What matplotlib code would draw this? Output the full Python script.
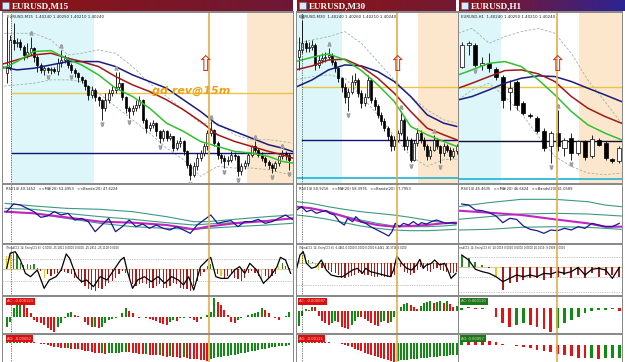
import numpy as np
import matplotlib.pyplot as plt
from matplotlib.colors import LinearSegmentedColormap
from matplotlib.patches import Rectangle

W, H = 625, 362
fig = plt.figure(figsize=(W / 100, H / 100), dpi=100)
fig.patch.set_facecolor('white')

# ---------------- EURUSD M15 (screen levels) ----------------
m15_open0 = 330
m15_close = [350, 430, 420, 425, 410, 385, 395, 405, 380, 355,
             340, 345, 340, 342, 338, 360, 370, 375, 355, 340,
             330, 318, 310, 292, 265, 280, 258, 250, 225, 250,
             270, 280, 290, 300, 260, 225, 215, 225, 235, 250,
             190, 165, 175, 180, 155, 135, 155, 135, 140, 105,
             120, 125, 95, 55, 25, 50, 75, 90, 110, 150,
             160, 120, 85, 75, 65, 70, 85, 80, 35, 50,
             60, 85, 110, 100, 85, 75, 62, 55, 45, 60,
             80, 90, 85, 70]
m15_high = [500, 445, 480, 435, 432, 415, 420, 440, 410, 385,
            360, 352, 350, 350, 348, 375, 400, 385, 380, 360,
            345, 335, 322, 312, 295, 292, 285, 262, 252, 270,
            282, 292, 335, 335, 302, 262, 232, 235, 250, 262,
            252, 195, 182, 190, 182, 160, 162, 160, 150, 142,
            130, 138, 128, 100, 60, 62, 90, 100, 120, 160,
            185, 162, 125, 90, 85, 80, 95, 92, 85, 60,
            70, 92, 115, 125, 105, 92, 80, 68, 60, 65,
            85, 100, 95, 90]
m15_low = [300, 340, 400, 410, 400, 370, 375, 385, 365, 335,
           330, 325, 330, 328, 330, 325, 350, 360, 345, 330,
           320, 305, 300, 280, 250, 255, 245, 230, 190, 215,
           240, 262, 270, 280, 248, 210, 195, 205, 215, 225,
           180, 150, 155, 165, 140, 120, 125, 125, 128, 95,
           98, 108, 85, 45, 10, 18, 40, 65, 80, 100,
           140, 110, 72, 60, 45, 55, 62, 70, 20, 25,
           42, 52, 78, 92, 78, 65, 50, 42, 30, 35,
           50, 72, 70, 40]
m15_frac_up = [7, 16, 32, 60, 73, 81]
m15_frac_dn = [12, 19, 28, 36, 45, 54, 64, 68, 78, 83]
m15_ma_x = [-2, 3, 8, 13, 18, 22, 27, 32, 37, 42, 47, 52, 57, 62, 67, 72, 77, 81, 84]
m15_ma_fast = [340, 365, 395, 398, 372, 355, 325, 285, 260, 225, 180, 155, 125, 110, 95, 90, 80, 65, 60]
m15_ma_mid = [355, 370, 385, 390, 375, 365, 350, 320, 295, 275, 250, 220, 185, 145, 125, 110, 95, 85, 75]
m15_ma_slow = [350, 340, 345, 355, 365, 365, 365, 350, 325, 305, 285, 250, 215, 175, 155, 135, 115, 105, 95]
m15_bb_up = [450, 450, 450, 430, 385, 390, 400, 390, 350, 300, 260, 220, 180, 180, 145, 130, 130, 125, 120]
m15_bb_dn = [290, 295, 300, 310, 310, 305, 270, 230, 190, 150, 105, 70, 20, 50, 45, 45, 40, 30, 25]

m15_rsi_x = list(range(0, 85, 2))
m15_rsi = [95, 118, 115, 105, 95, 78, 82, 95, 85, 90, 70, 75, 65, 35, 55, 75, 35, 50, 70, 50,
           58, 45, 55, 45, 40, 50, 40, 30, 55, 70, 85, 60, 65, 68, 50, 65, 65, 72, 60, 65,
           75, 85, 72]
m15_rsi_bx = [-0.5, 8, 17.5, 27.5, 37, 47, 55, 59, 67, 76.5, 84]
m15_rsi_ma = [95, 90, 78, 65, 62, 55, 42, 50, 60, 67, 75]
m15_rsi_up = [120, 112, 105, 102, 95, 80, 65, 65, 72, 80, 85]
m15_rsi_mid = [105, 102, 90, 80, 72, 62, 55, 58, 62, 68, 75]
m15_rsi_dn = [95, 90, 75, 60, 50, 45, 42, 45, 50, 55, 60]

m15_trend_cci = [40, 53, 50, 45, 20, 12, 15, 12, 15, 5,
                 -5, -25, -15, -20, -15, -10, -5, -8, -10, -15,
                 -25, -30, -40, -50, -60, -62, -65, -55, -60, -50,
                 -40, -35, -25, -15, -5, -10, -30, -45, -50, -45,
                 -40, -45, -55, -55, -50, -45, -55, -55, -50, -40,
                 -45, -55, -60, -60, -65, -50, -35, -20, -8, 10,
                 15, -10, -15, -20, -25, -20, -15, -25, -30, -35,
                 -25, -10, -5, -10, -20, -28, -20, -25, -20, -15,
                 10, 18, 10, 5]
m15_cci_yellow = [0, 1, 11, 61, 63, 75, 80]
m15_entry_x = [0, 1, 2.5, 4, 5.5, 7, 9, 11, 12.5, 14.5, 16, 17.5, 18.5, 20.5, 22, 23.5, 25.5,
               27.5, 29.5, 31.5, 33.5, 34.5, 35.5, 37, 38.5, 40.5, 42.5, 44.5, 46.5, 48.5,
               50.5, 52, 53.5, 55, 57, 59, 60, 61.5, 63, 65, 67, 68.5, 70, 71.5, 73.5, 75.5,
               77.5, 79.5, 80.5, 82, 83.5]
m15_entry_cci = [3, 48, 53, 28, -12, -22, -2, -57, -32, -22, -2, 46, 33, -22, -37, -32, -52,
                 -22, -32, -2, 28, 36, -7, -57, -32, -22, -37, -22, -42, -22, -32, -47, -22,
                 -62, 8, 28, 36, -22, -27, -27, -2, 8, -12, 18, -2, -42, -22, 8, 36, 28, -12]

m15_ac = [-30, -15, 25, 38, 40, 38, 25, 10, -10, -15,
          -20, -25, -35, -40, -45, -30, -20, -5, 10, 15,
          5, 2, -2, -15, -25, -30, -30, -35, -30, -20,
          -10, -8, -5, 0, 10, 25, 18, 10, 0, -5,
          -2, -5, -6, -10, -12, -18, -22, -25, -15, -10,
          -12, -5, -3, -2, -5, -10, -15, -8, -2, 5,
          15, 55, 45, 35, 20, 5, -15, -20, -10, -5,
          0, 5, 7, 10, 15, 25, 20, 10, 0, -5,
          -10, -2, 2, 15]
m15_ao = [8, 9, 10, 10, 11, 9, 8, 6, 3, 0,
          -2, -3, -5, -8, -10, -12, -14, -15, -15, -16,
          -17, -18, -20, -22, -24, -26, -28, -30, -29, -31,
          -30, -29, -28, -28, -27, -26, -27, -28, -30, -31,
          -32, -31, -34, -35, -36, -35, -38, -40, -39, -41,
          -42, -43, -42, -45, -46, -47, -48, -49, -50, -52,
          -48, -45, -42, -40, -38, -37, -35, -34, -33, -30,
          -28, -26, -24, -22, -20, -18, -16, -14, -12, -10,
          -9, -8, -7, -6]

# ---------------- EURUSD M30 ----------------
m30_open0 = 380
m30_close = [400, 420, 405, 410, 415, 355, 370, 375, 380, 385,
             365, 345, 315, 290, 260, 275, 305, 310, 270, 240,
             260, 310, 250, 230, 205, 185, 165, 140, 110, 130,
             150, 190, 110, 130, 70, 120, 150, 130, 110, 80,
             100, 130, 110, 90, 110, 100, 80, 95, 110]
m30_high = [440, 490, 430, 425, 430, 420, 385, 390, 395, 405,
            392, 370, 350, 320, 300, 285, 325, 330, 315, 280,
            270, 325, 315, 258, 238, 212, 195, 172, 148, 142,
            160, 215, 195, 140, 135, 130, 165, 158, 138, 118,
            112, 145, 136, 115, 120, 118, 108, 105, 118]
m30_low = [340, 390, 395, 395, 400, 340, 345, 360, 365, 370,
           355, 335, 305, 275, 240, 215, 268, 295, 260, 225,
           232, 255, 240, 220, 195, 175, 155, 128, 95, 100,
           122, 145, 100, 100, 62, 65, 112, 120, 100, 70,
           72, 95, 102, 60, 82, 92, 70, 75, 88]
m30_frac_up = [1, 9, 31, 41]
m30_frac_dn = [15, 34, 43]
m30_ma_x = [-1, 4, 9, 14, 19, 24, 29, 34, 39, 44, 48]
m30_ma_fast = [365, 378, 388, 370, 338, 295, 245, 170, 145, 125, 110]
m30_ma_mid = [340, 352, 370, 372, 350, 315, 270, 215, 165, 145, 130]
m30_ma_slow = [288, 310, 340, 355, 352, 335, 305, 260, 205, 180, 170]
m30_bb_up = [420, 430, 440, 455, 420, 365, 310, 260, 220, 190, 180]
m30_bb_dn = [310, 320, 325, 315, 260, 205, 140, 80, 50, 70, 72]

m30_rsi_x = [-0.7, 0.8, 2.3, 3.8, 5.3, 6.8, 8.3, 9.3, 10.8, 12.3, 13.8, 14.8, 16.3, 17.3,
             18.8, 20.3, 21.8, 23.8, 25.8, 27.3, 28.3, 29.3, 30.6, 31.8, 33.3, 34.8, 36.3,
             37.3, 38.8, 40.3, 41.8, 43.3, 44.8, 46.8, 47.8]
m30_rsi = [100, 110, 95, 100, 90, 95, 98, 90, 85, 65, 55, 75, 65, 80, 65, 60, 50, 40, 30, 22,
           35, 60, 50, 60, 55, 65, 55, 62, 58, 65, 70, 65, 60, 62, 60]
m30_rsi_bx = [-0.7, 3.8, 8.8, 13.8, 18.8, 23.8, 28.8, 33.8, 38.8, 43.8, 47.8]
m30_rsi_ma = [110, 105, 95, 80, 65, 55, 50, 52, 55, 60, 62]
m30_rsi_up = [125, 120, 110, 102, 95, 90, 85, 78, 70, 62, 58]
m30_rsi_mid = [110, 105, 95, 82, 70, 60, 52, 50, 50, 52, 55]
m30_rsi_dn = [85, 80, 72, 62, 52, 45, 40, 38, 38, 40, 42]

m30_trend_cci = [10, 25, 28, 10, 5, -10, -20, -15, -18, -20,
                 -25, -28, -35, -45, -45, -40, -38, -35, -30, -32,
                 -35, -35, -38, -40, -40, -38, -40, -42, -40, -35,
                 -15, -10, -25, -30, -35, -28, -20, -12, -18, -22,
                 -25, -18, -15, -20, -22, -25, -30, -28, -25]
m30_cci_yellow = [0, 1, 2, 5, 6]
m30_entry_x = [-0.7, 0.3, 1.3, 2.3, 3.8, 5.3, 6.8, 8.3, 9.8, 11.8, 13.3, 14.8, 16.3, 17.8,
               19.3, 20.3, 21.8, 23.8, 25.8, 27.8, 28.8, 29.8, 31.3, 32.8, 34.3, 35.8, 36.8,
               37.8, 38.8, 40.3, 41.3, 42.8, 44.3, 45.3, 46.3, 47.8]
m30_entry_cci = [-15, 25, 35, 0, -15, -10, 10, -20, -35, -40, -40, -30, -20, -15, -30, -15,
                 -25, -30, -35, -40, -20, 22, 0, -15, -20, -5, 12, -15, -5, 0, 10, -5, 0,
                 -20, -45, -30]

m30_ac = [-45, -15, 5, 3, 12, 10, -15, -30, -38, -42,
          -38, -30, -35, -48, -52, -55, -42, -30, -18, -20,
          -25, -30, -38, -42, -45, -35, -30, -38, -35, -20,
          0, 12, 20, 24, 18, 10, 6, 14, 22, 27,
          30, 24, 27, 28, 24, 30, 20, 10, 15]
m30_ao = [12, 12, 11, 11, 10, 9, 8, 6, 4, 3,
          2, 1, 0, -2, -5, -8, -12, -16, -20, -24,
          -28, -31, -34, -37, -40, -43, -46, -49, -52, -55,
          -53, -51, -50, -49, -48, -47, -46, -45, -44, -43,
          -42, -41, -40, -39, -38, -37, -36, -35, -34]

# ---------------- EURUSD H1 ----------------
h1_open = [350, 415, 415, 355, 360, 343, 318, 275, 305, 240, 205, 195,
           155, 110, 150, 105, 135, 90, 125, 80, 130, 120, 72, 65]
h1_close = [415, 420, 355, 360, 345, 320, 250, 285, 235, 210, 200, 155,
            105, 150, 110, 130, 90, 125, 78, 132, 115, 75, 65, 105]
h1_high = [425, 428, 420, 380, 390, 350, 325, 310, 310, 245, 210, 200,
           165, 155, 220, 135, 150, 130, 130, 145, 135, 125, 75, 110]
h1_low = [345, 385, 350, 340, 335, 310, 225, 220, 220, 205, 195, 150,
          95, 60, 95, 80, 70, 85, 70, 75, 110, 70, 60, 60]
h1_frac_up = [14]
h1_frac_dn = [2, 13, 16]
h1_ma_x = [-0.5, 1.5, 4, 6.3, 8.7, 11.2, 13.6, 16, 18.4, 20.9, 23.3]
h1_ma_fast = [325, 340, 360, 365, 350, 310, 265, 215, 175, 150, 130]
h1_ma_mid = [285, 300, 320, 338, 340, 328, 305, 260, 225, 200, 180]
h1_ma_slow = [250, 260, 280, 300, 315, 322, 320, 305, 285, 265, 245]
h1_bb_up = [450, 465, 420, 440, 455, 465, 450, 390, 310, 245, 180]
h1_bb_dn = [250, 280, 300, 260, 210, 140, 80, 50, 30, 25, 30]

h1_rsi_x = list(range(24))
h1_rsi = [118, 115, 100, 98, 92, 82, 62, 75, 72, 52, 42, 38,
          30, 40, 38, 45, 40, 50, 45, 60, 55, 50, 50, 60]
h1_rsi_bx = [-0.5, 3.9, 8.7, 13.6, 18.4, 20.9, 23.3]
h1_rsi_ma = [98, 92, 85, 72, 60, 50, 50]
h1_rsi_up = [110, 122, 132, 132, 125, 115, 110]
h1_rsi_mid = [72, 80, 88, 90, 88, 85, 82]
h1_rsi_dn = [40, 42, 48, 50, 48, 45, 42]

h1_trend_cci = [35, 25, 15, 5, -5, -30, -70, -50, -45, -40, -35, -35,
                -40, -35, -30, -25, -35, -25, -35, -20, -30, -25, -25, -30]
h1_cci_yellow = [5]
h1_entry_x = list(range(24))
h1_entry_cci = [35, 20, -8, -15, -20, -30, -45, -35, -25, -30, -25, -30,
                -20, -22, -15, -20, -15, -2, -25, -8, -5, -10, -35, -2]

h1_ac = [-5, 3, -2, -1, 0, -25, -45, -55, -50, -45, -50, -55,
         -62, -70, -60, -45, -35, -25, -13, -8, -6, -4, -2, -8]
h1_ao = [22, 20, 17, 14, 11, 8, 4, 1, -2, -5, -10, -14,
         -18, -22, -26, -30, -34, -38, -40, -40, -42, -40, -38, -38]

# ---------------- layout (pixels) ----------------
ROWS = {'main': (13, 183), 'rsi': (185, 243), 'cci': (245, 295), 'ac': (297, 333), 'ao': (335, 362)}


def px_axes(x0, y0, x1, y1, xlim=None, ylim=None, bg='white'):
    ax = fig.add_axes([x0 / W, 1 - y1 / H, (x1 - x0) / W, (y1 - y0) / H])
    ax.set_facecolor(bg)
    if xlim:
        ax.set_xlim(*xlim)
    if ylim:
        ax.set_ylim(*ylim)
    ax.set_xticks([])
    ax.set_yticks([])
    for s in ax.spines.values():
        s.set_visible(False)
    return ax


def title_bar(x0, x1, label, right_col):
    ax = px_axes(x0, 0, x1, 11, (0, 1), (0, 1))
    cmap = LinearSegmentedColormap.from_list('tb', ['#8e1414', right_col])
    ax.imshow(np.linspace(0, 1, 256)[None, :], aspect='auto', cmap=cmap,
              extent=[0, 1, 0, 1], zorder=0)
    ax.add_patch(Rectangle((2 / (x1 - x0), 0.18), 7 / (x1 - x0), 0.64,
                           facecolor='#dfe8f8', edgecolor='#5070b0', lw=0.5, zorder=2))
    ax.text(12 / (x1 - x0), 0.45, label, color='white', fontsize=6.6, fontweight='bold',
            family='Liberation Serif', va='center', ha='left', zorder=3)


def draw_window(cfg):
    x0, x1 = cfg['x']
    xl = cfg['xlim']
    # grey frame behind the panels gives the separators
    px_axes(x0 - 1, 11, x1 + 1, 362, bg='#8a8a8a')
    title_bar(cfg['tx'][0], cfg['tx'][1], cfg['title'], cfg['tcol'])

    # ----- price chart -----
    ax = px_axes(x0, ROWS['main'][0], x1, ROWS['main'][1], xl, (0, 511))
    ax.axvspan(cfg['cyan'][0], cfg['cyan'][1], color='#dcf6fa', zorder=0, lw=0)
    ax.axvspan(cfg['peach'], xl[1] + 1, color='#fce7cd', zorder=0, lw=0)
    o = np.asarray(cfg['open'], float)
    c = np.asarray(cfg['close'], float)
    hi = np.asarray(cfg['high'], float)
    lo = np.asarray(cfg['low'], float)
    x = np.arange(len(c))
    ax.plot(cfg['ma_x'], cfg['bb_up'], color='#9ab4a0', lw=0.6, ls=(0, (3, 2)), zorder=2)
    ax.plot(cfg['ma_x'], cfg['bb_dn'], color='#9ab4a0', lw=0.6, ls=(0, (3, 2)), zorder=2)
    ax.axhline(cfg['yellow'], xmin=cfg['hl_from'], color='#ecc444', lw=1.0, zorder=2)
    ax.axhline(cfg['navy'], xmin=cfg['hl_from'], color=cfg['navy_col'], lw=1.0, zorder=2)
    if cfg.get('cyanline') is not None:
        ax.axhline(cfg['cyanline'], color='#1cb4d4', lw=1.2, zorder=2)
    ax.vlines(x, lo, hi, color='black', lw=0.6, zorder=3)
    bottom = np.minimum(o, c)
    height = np.maximum(np.abs(c - o), 3)
    face = np.where(c >= o, 'white', 'black')
    ax.bar(x, height, cfg['cw'], bottom=bottom, color=face, edgecolor='black', lw=0.5, zorder=4)
    ax.plot(cfg['ma_x'], cfg['ma_slow'], color='#1a1a80', lw=1.1, zorder=5)
    ax.plot(cfg['ma_x'], cfg['ma_mid'], color='#a01818', lw=1.1, zorder=5)
    ax.plot(cfg['ma_x'], cfg['ma_fast'], color='#30c030', lw=1.1, zorder=5)
    ax.plot(cfg['frac_up'], hi[cfg['frac_up']] + 12, ls='none', marker=r'$\wedge$',
            ms=2.4, color='#a0a0a0', zorder=5)
    ax.plot(cfg['frac_dn'], lo[cfg['frac_dn']] - 12, ls='none', marker=r'$\vee$',
            ms=2.4, color='#a0a0a0', zorder=5)
    ax.axvline(cfg['vline'], color='#e6ae48', lw=1.2, zorder=6)
    ax.text(cfg['vline'] - cfg['arrow_dx'], 356, '\u21e7', color='#d0301c', fontsize=15,
            ha='center', va='center', zorder=7)
    if cfg.get('sep') is not None:
        ax.axvline(cfg['sep'], color='black', lw=0.5, ls=(0, (1, 1.5)), zorder=6)
    ax.text(0.015, 0.99, cfg['head'], transform=ax.transAxes, fontsize=2.8,
            va='top', ha='left', color='#202020', zorder=8)
    if cfg.get('note'):
        ax.text(cfg['note_x'], 278, cfg['note'], color='#f0a010', fontsize=8,
                fontweight='bold', style='italic', va='center', ha='left', zorder=8)

    # ----- RSI -----
    ax = px_axes(x0, ROWS['rsi'][0], x1, ROWS['rsi'][1], xl, (1, 175))
    for band in ('rsi_up', 'rsi_mid', 'rsi_dn'):
        ax.plot(cfg['rsi_bx'], cfg[band], color='#3c9a84', lw=0.8, zorder=2)
    ax.plot(cfg['rsi_bx'], cfg['rsi_ma'], color='#c424c4', lw=1.5, zorder=3)
    ax.plot(cfg['rsi_x'], cfg['rsi'], color='#1a1a90', lw=0.9, zorder=4)
    ax.axvline(cfg['vline'], color='#e6ae48', lw=1.2, zorder=6)
    if cfg.get('sep') is not None:
        ax.axvline(cfg['sep'], color='black', lw=0.5, ls=(0, (1, 1.5)), zorder=6)
    ax.text(0.012, 0.97, cfg['rsi_head'], transform=ax.transAxes, fontsize=2.6,
            va='top', ha='left', color='#202020')

    # ----- trend / entry CCI -----
    ax = px_axes(x0, ROWS['cci'][0], x1, ROWS['cci'][1], xl, cfg['cci_ylim'])
    tc = np.asarray(cfg['trend'], float)
    cols = np.where(tc > 0, '#2a8a2a', '#a81c1c').astype(object)
    cols[cfg['yellow_idx']] = '#e8c820'
    ax.axhline(0, color='#dccaa0', lw=0.8, zorder=1)
    for lvl in cfg['cci_dots']:
        ax.axhline(lvl, color='#909090', lw=0.5, ls=(0, (1, 1.5)), zorder=1)
    ax.bar(np.arange(len(tc)), tc, cfg['cciw'], color=list(cols), zorder=2)
    ax.plot(cfg['entry_x'], cfg['entry'], color='black', lw=0.9, zorder=4)
    ax.axvline(cfg['vline'], color='#e6ae48', lw=1.2, zorder=6)
    if cfg.get('sep') is not None:
        ax.axvline(cfg['sep'], color='black', lw=0.5, ls=(0, (1, 1.5)), zorder=6)
    ax.text(cfg['cci_tx'], 0.97, cfg['cci_head'], transform=ax.transAxes, fontsize=1.9,
            va='top', ha='left', color='#202020', clip_on=True)

    # ----- two oscillator histograms -----
    for key, ylim, lab in (('ac', cfg['ac_ylim'], cfg['ac_lab']), ('ao', cfg['ao_ylim'], cfg['ao_lab'])):
        ax = px_axes(x0, ROWS[key][0], x1, ROWS[key][1], xl, ylim)
        v = np.asarray(cfg[key], float)
        up = np.r_[True, np.diff(v) >= 0]
        ax.bar(np.arange(len(v)), v, cfg['hw'], color=np.where(up, '#138a13', '#e01414'), zorder=2)
        ax.axvline(cfg['vline'], color='#e6ae48', lw=1.2, zorder=6)
        if cfg.get('sep') is not None:
            ax.axvline(cfg['sep'], color='black', lw=0.5, ls=(0, (1, 1.5)), zorder=6)
        ax.text(0.015, 0.94, lab, transform=ax.transAxes, fontsize=2.6, color='#f4d0d0',
                va='top', ha='left', zorder=8,
                bbox=dict(facecolor=cfg['lab_col'], edgecolor='none', pad=1.0))


draw_window(dict(
    x=(3, 293), tx=(0, 293), xlim=(-1.1, 84.2), title='EURUSD,M15', tcol='#6e1836',
    open=[m15_open0] + m15_close[:-1], close=m15_close, high=m15_high, low=m15_low,
    frac_up=m15_frac_up, frac_dn=m15_frac_dn, cw=0.6,
    ma_x=m15_ma_x, ma_fast=m15_ma_fast, ma_mid=m15_ma_mid, ma_slow=m15_ma_slow,
    bb_up=m15_bb_up, bb_dn=m15_bb_dn,
    cyan=(1.2, 25.8), peach=70.8, yellow=270, navy=90, navy_col='#14146e', hl_from=0.03,
    cyanline=None, vline=59.5, arrow_dx=1.0, sep=1.2,
    head='EURUSD,M15  1.40240 1.40250 1.40210 1.40240', note='gd rev@15m', note_x=42.6,
    rsi_x=m15_rsi_x, rsi=m15_rsi, rsi_bx=m15_rsi_bx, rsi_ma=m15_rsi_ma,
    rsi_up=m15_rsi_up, rsi_mid=m15_rsi_mid, rsi_dn=m15_rsi_dn,
    rsi_head='RSI(14) 49.1452   <<MA(20) 52.4953   <<Bands(20) 47.6224',
    trend=m15_trend_cci, yellow_idx=m15_cci_yellow, entry_x=m15_entry_x, entry=m15_entry_cci,
    cci_ylim=(-77, 73), cci_dots=[31, -35], cciw=0.35, cci_tx=0.012,
    cci_head='(TrendCCI: 14, EntryCCI: 6)  0.0000 -25.2811 0.0000 0.0000 -25.2811 -25.1118 0.0000',
    ac=m15_ac, ao=m15_ao, ac_ylim=(-49, 59), ao_ylim=(-56, 25), hw=0.6,
    ac_lab='AC: -0.000123', ao_lab='AO: -0.00052', lab_col='#d81010'))

draw_window(dict(
    x=(297, 458), tx=(297, 456), xlim=(-0.6, 48.4), title='EURUSD,M30', tcol='#721a34',
    open=[m30_open0] + m30_close[:-1], close=m30_close, high=m30_high, low=m30_low,
    frac_up=m30_frac_up, frac_dn=m30_frac_dn, cw=0.6,
    ma_x=m30_ma_x, ma_fast=m30_ma_fast, ma_mid=m30_ma_mid, ma_slow=m30_ma_slow,
    bb_up=m30_bb_up, bb_dn=m30_bb_dn,
    cyan=(-0.6, 13.1), peach=36.1, yellow=290, navy=130, navy_col='#14146e', hl_from=0.03,
    cyanline=15, vline=29.8, arrow_dx=0.0, sep=0.8,
    head='EURUSD,M30  1.40240 1.40260 1.40210 1.40240', note=None,
    rsi_x=m30_rsi_x, rsi=m30_rsi, rsi_bx=m30_rsi_bx, rsi_ma=m30_rsi_ma,
    rsi_up=m30_rsi_up, rsi_mid=m30_rsi_mid, rsi_dn=m30_rsi_dn,
    rsi_head='RSI(14) 50.9216   <<MA(20) 58.3976   <<Bands(20) 47.7953',
    trend=m30_trend_cci, yellow_idx=m30_cci_yellow, entry_x=m30_entry_x, entry=m30_entry_cci,
    cci_ylim=(-95, 55), cci_dots=[-65], cciw=0.35, cci_tx=0.012,
    cci_head='(TrendCCI: 14, EntryCCI: 6)  6.4461 0.0000 0.0000 0.0000 6.4461 -40.3716 0.0000',
    ac=m30_ac, ao=m30_ao, ac_ylim=(-67, 41), ao_ylim=(-56, 25), hw=0.6,
    ac_lab='AC: -0.000087', ao_lab='AO: -0.00121', lab_col='#d81010'))

draw_window(dict(
    x=(459, 622), tx=(459, 625), xlim=(-0.4, 23.4), title='EURUSD,H1', tcol='#2c2494',
    open=h1_open, close=h1_close, high=h1_high, low=h1_low,
    frac_up=h1_frac_up, frac_dn=h1_frac_dn, cw=0.6,
    ma_x=h1_ma_x, ma_fast=h1_ma_fast, ma_mid=h1_ma_mid, ma_slow=h1_ma_slow,
    bb_up=h1_bb_up, bb_dn=h1_bb_dn,
    cyan=(-0.4, 5.8), peach=17.1, yellow=288, navy=125, navy_col='#101030', hl_from=0.0,
    cyanline=12, vline=13.9, arrow_dx=0.0, sep=None,
    head='EURUSD,H1  1.40240 1.40250 1.40210 1.40240', note=None,
    rsi_x=h1_rsi_x, rsi=h1_rsi, rsi_bx=h1_rsi_bx, rsi_ma=h1_rsi_ma,
    rsi_up=h1_rsi_up, rsi_mid=h1_rsi_mid, rsi_dn=h1_rsi_dn,
    rsi_head='RSI(14) 45.4635   <<MA(20) 46.6624   <<Bands(20) 41.0589',
    trend=h1_trend_cci, yellow_idx=h1_cci_yellow, entry_x=h1_entry_x, entry=h1_entry_cci,
    cci_ylim=(-85, 65), cci_dots=[28, -32, -75], cciw=0.3, cci_tx=-0.02,
    cci_head='(TrendCCI: 14, EntryCCI: 6)  20.0019 0.0000 0.0000 0.0000 20.0019 -9.0909 0.0000',
    ac=h1_ac, ao=h1_ao, ac_ylim=(-74, 34), ao_ylim=(-51, 30), hw=0.4,
    ac_lab='AC: 0.000110', ao_lab='AO: 0.00057', lab_col='#1a7a1a'))

fig.savefig('out.png', dpi=100, facecolor=fig.get_facecolor())
